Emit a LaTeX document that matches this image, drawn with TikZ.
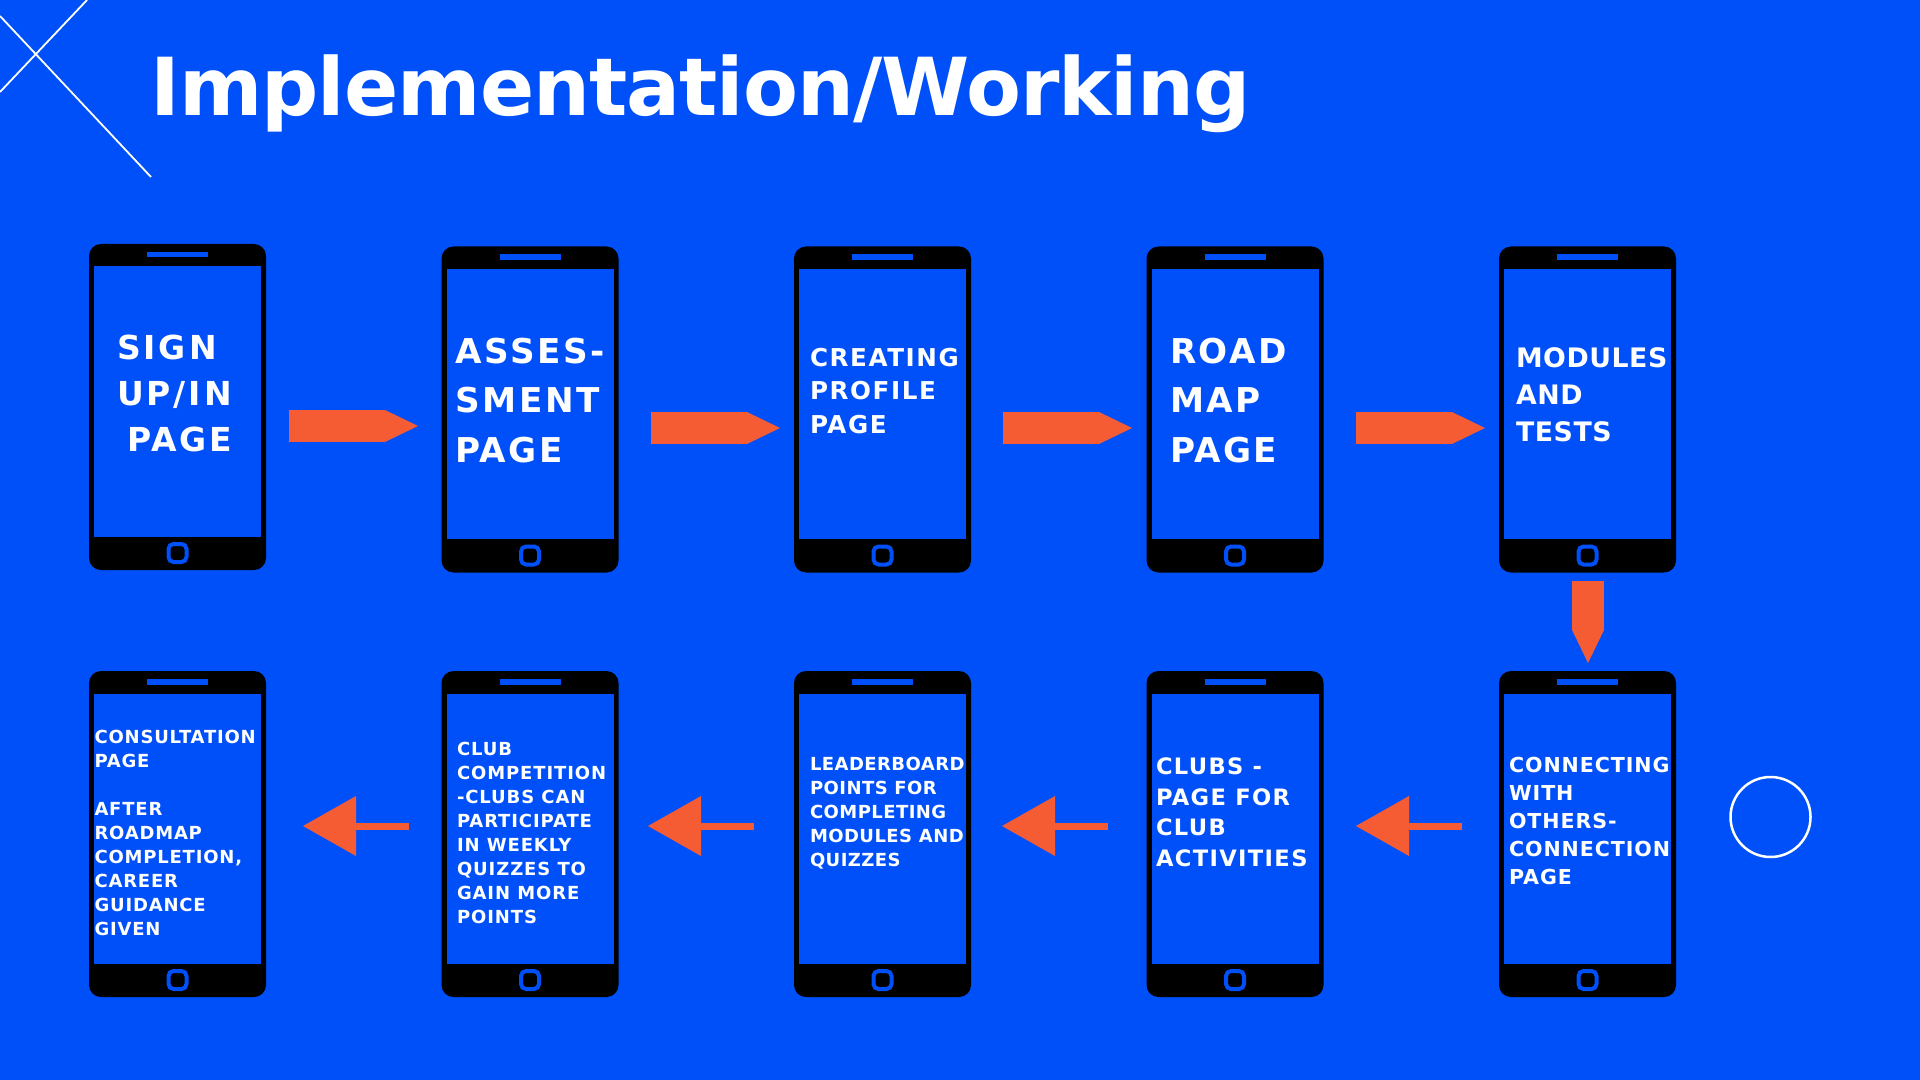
\documentclass[tikz,border=0pt]{standalone}
\usepackage{fontspec}
\usetikzlibrary{positioning,arrows.meta}
\setmainfont{DejaVu Sans}
\newfontfamily\titlefont[LetterSpace=-1.2]{DejaVu Sans}
\newfontfamily\capsfont{DejaVu Sans}
\newcommand{\pagefont}[3]{\capsfont\bfseries\fontsize{#1}{#2}\selectfont\addfontfeature{LetterSpace=#3}}
\definecolor{bgblue}{HTML}{0050F9}
\definecolor{arrowred}{HTML}{F65C33}

\tikzset{
  phone/.style={fill=black,shape=rectangle,rounded corners=6pt,inner sep=0,outer sep=0,minimum width=88.5pt,minimum height=163pt},
  screen/.style={fill=bgblue,shape=rectangle,inner sep=0,outer sep=0,minimum width=83.5pt,minimum height=135pt},
  speaker/.style={fill=bgblue,shape=rectangle,inner sep=0,outer sep=0,minimum width=30.5pt,minimum height=2.75pt},
  homekey/.style={draw=bgblue,line width=2pt,shape=rectangle,rounded corners=2.5pt,inner sep=0,outer sep=0,minimum size=9pt},
  pagetext/.style={anchor=north west,inner sep=0,outer sep=0,align=left,text=white},
  flatarrow/.style={draw=arrowred,line width=16pt,-{Triangle[length=16.5pt,width=16pt,line width=0pt,fill=arrowred]}},
  thinarrow/.style={draw=arrowred,line width=3.5pt,-{Triangle[length=26.5pt,width=30pt,line width=0pt,fill=arrowred]}},
  deco/.style={draw=white,line width=0.9pt}
}

\begin{document}
\begin{tikzpicture}
        [x=0.5pt,y=-0.5pt]

        \path[use as bounding box,fill=bgblue] (0,0) rectangle (1920,1080);

        \coordinate (x1) at (0,16);
        \coordinate (x2) at (151,177);
        \coordinate (x3) at (87,0);
        \coordinate (x4) at (0,92);
        \draw[deco] (x1) -- (x2);
        \draw[deco] (x3) -- (x4);

        \node[anchor=base west,inner sep=0,text=white,font=\titlefont\bfseries\fontsize{40}{48}\selectfont] (title) at (150,116) {Implementation/Working};

        \foreach \n/\x/\y in {p1/177.5/407,p2/530/409.5,p3/882.5/409.5,p4/1235/409.5,p5/1587.5/409.5,p6/1587.5/834,p7/1235/834,p8/882.5/834,p9/530/834,p10/177.5/834}{
          \node[phone] (\n) at (\x,\y) {};
          \node[screen,below=11.25pt of \n.north] (\n-screen) {};
          \node[speaker,below=4pt of \n.north] (\n-speaker) {};
          \node[homekey,above=4pt of \n.south] (\n-home) {};
        }

        \node[pagetext,font=\pagefont{16.5}{23}{9}] (t1) at (117,335) {SIGN\\UP/IN\\\hspace{5pt}PAGE};
        \node[pagetext,font=\pagefont{17.1}{24.75}{8}] (t2) at (455,338) {ASSES-\\SMENT\\PAGE};
        \node[pagetext,font=\pagefont{12.3}{16.7}{6.5}] (t3) at (810,348) {CREATING\\PROFILE\\PAGE};
        \node[pagetext,font=\pagefont{17.1}{24.75}{7}] (t4) at (1170,338) {ROAD\\MAP\\PAGE};
        \node[pagetext,font=\pagefont{13.4}{18.5}{2}] (t5) at (1516,348) {MODULES\\AND\\TESTS};
        \node[pagetext,font=\pagefont{10.3}{14}{4.5}] (t6) at (1509,757) {CONNECTING\\WITH\\OTHERS-\\CONNECTION\\PAGE};
        \node[pagetext,font=\pagefont{11.3}{15.3}{6}] (t7) at (1156,758) {CLUBS -\\PAGE FOR\\CLUB\\ACTIVITIES};
        \node[pagetext,font=\pagefont{9}{12}{2.5}] (t8) at (810,757) {LEADERBOARD\\POINTS FOR\\COMPLETING\\MODULES AND\\QUIZZES};
        \node[pagetext,font=\pagefont{9}{12}{5}] (t9) at (457,742) {CLUB\\COMPETITION\\-CLUBS CAN\\PARTICIPATE\\IN WEEKLY\\QUIZZES TO\\GAIN MORE\\POINTS};
        \node[pagetext,font=\pagefont{9}{12}{4.5}] (t10) at (94.5,730) {CONSULTATION\\PAGE\\[12pt]AFTER\\ROADMAP\\COMPLETION,\\CAREER\\GUIDANCE\\GIVEN};

        \coordinate (a1s) at (289,426);
        \coordinate (a1e) at (418,426);
        \coordinate (a2s) at (651,428);
        \coordinate (a2e) at (780,428);
        \coordinate (a3s) at (1003,428);
        \coordinate (a3e) at (1132,428);
        \coordinate (a4s) at (1356,428);
        \coordinate (a4e) at (1485,428);
        \coordinate (a5s) at (1588,581);
        \coordinate (a5e) at (1588,663);
        \coordinate (a6s) at (1462,826);
        \coordinate (a6e) at (1356,826);
        \coordinate (a7s) at (1108,826);
        \coordinate (a7e) at (1002,826);
        \coordinate (a8s) at (754,826);
        \coordinate (a8e) at (648,826);
        \coordinate (a9s) at (409,826);
        \coordinate (a9e) at (303,826);

        \draw[flatarrow] (a1s) -- (a1e);
        \draw[flatarrow] (a2s) -- (a2e);
        \draw[flatarrow] (a3s) -- (a3e);
        \draw[flatarrow] (a4s) -- (a4e);
        \draw[flatarrow] (a5s) -- (a5e);
        \draw[thinarrow] (a6s) -- (a6e);
        \draw[thinarrow] (a7s) -- (a7e);
        \draw[thinarrow] (a8s) -- (a8e);
        \draw[thinarrow] (a9s) -- (a9e);

        \node[draw=white,line width=1.25pt,shape=circle,inner sep=0,outer sep=0,minimum size=40pt] (ring) at (1770.5,817) {};

      \end{tikzpicture}
\end{document}
